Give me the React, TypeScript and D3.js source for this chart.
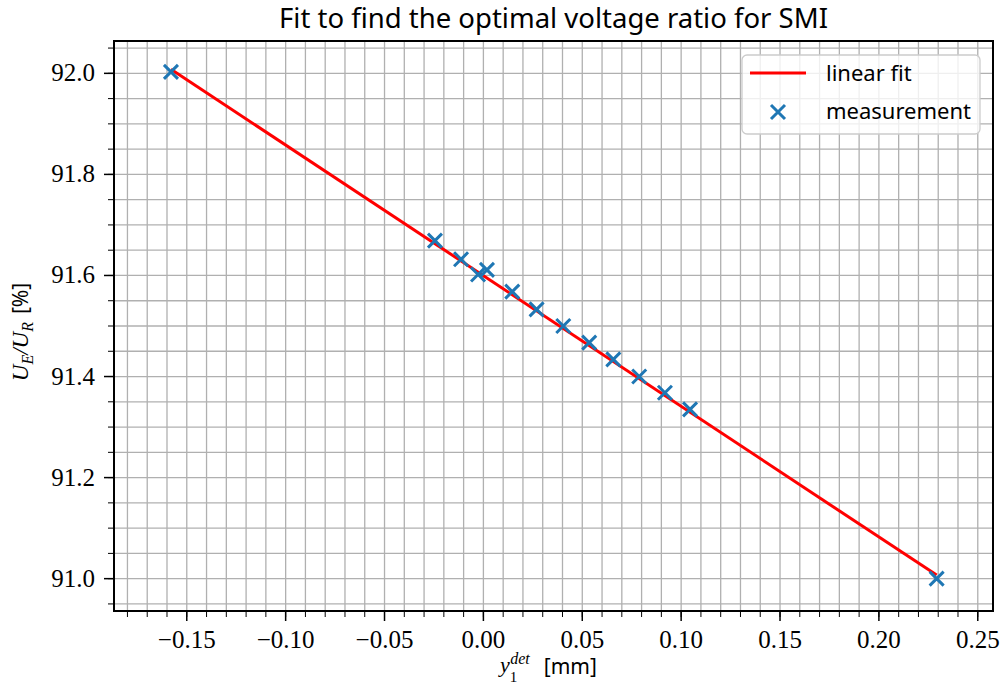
import React from "react";
import * as d3 from "d3";

// measured points (y_1^det in mm, U_E/U_R in %)
const measX = [-0.158, -0.0245, -0.0113, -0.0027, 0.0018, 0.0146, 0.0269, 0.0404, 0.0535, 0.0657, 0.0788, 0.0918, 0.1045, 0.2292];
const measY = [92.003, 91.669, 91.632, 91.602, 91.611, 91.568, 91.533, 91.5, 91.467, 91.434, 91.4, 91.368, 91.335, 91.0];

// linear fit end points
const fitX = [-0.158, 0.2292];
const fitY = [92.008, 91.007];

const xTicks = [-0.15, -0.1, -0.05, 0, 0.05, 0.1, 0.15, 0.2, 0.25];
const yTicks = [91.0, 91.2, 91.4, 91.6, 91.8, 92.0];

const W = 1004, H = 695;
const M = { left: 114, right: 993, top: 41, bottom: 611 };

const serif = "'Liberation Serif', 'DejaVu Serif', serif";
const sans = "'Noto Sans', 'DejaVu Sans', sans-serif";

const fmt = (v: number) => {
  const s = Math.abs(v).toFixed(2);
  return (v < -1e-9 ? "\u2212" : "") + s;
};

export default function App() {
  const x = d3.scaleLinear().domain([-0.1868, 0.2577]).range([M.left, M.right]);
  const y = d3.scaleLinear().domain([90.936, 92.064]).range([M.bottom, M.top]);

  const xMinor = d3.range(-18, 26).map((i) => i / 100);
  const yMinor = d3.range(0, 23).map((i) => 90.95 + i * 0.05).filter((v) => v >= 90.936 && v <= 92.064);

  const line = d3.line<number>().x((d, i) => x(fitX[i])).y((d, i) => y(fitY[i]));
  const cross = (cx: number, cy: number, r: number) =>
    `M${cx - r},${cy - r}L${cx + r},${cy + r}M${cx - r},${cy + r}L${cx + r},${cy - r}`;

  const gridColor = "#b0b0b0";
  const tickStyle = { fontFamily: serif, fontSize: 25 };
  const mathStyle = { fontFamily: serif, fontStyle: "italic" as const };

  return (
    <svg width={W} height={H} style={{ position: "absolute", left: 0, top: 0, background: "#fff" }}>
      <defs>
        <clipPath id="plot">
          <rect x={M.left} y={M.top} width={M.right - M.left} height={M.bottom - M.top} />
        </clipPath>
      </defs>
      {/* grid */}
      <g stroke={gridColor} strokeWidth={1.3}>
        {xMinor.map((v) => (
          <line key={"gx" + v} x1={x(v)} x2={x(v)} y1={M.top} y2={M.bottom} />
        ))}
        {yMinor.map((v) => (
          <line key={"gy" + v} x1={M.left} x2={M.right} y1={y(v)} y2={y(v)} />
        ))}
      </g>

      {/* fit line + measurements */}
      <g clipPath="url(#plot)">
        <path d={line(fitX) || ""} fill="none" stroke="#ff0000" strokeWidth={3} />
        {measX.map((v, i) => (
          <path key={"m" + i} d={cross(x(v), y(measY[i]), 7)} stroke="#1f77b4" strokeWidth={3} fill="none" />
        ))}
      </g>

      {/* ticks */}
      <g stroke="#000">
        {xMinor.map((v) => (
          <line key={"tx" + v} x1={x(v)} x2={x(v)} y1={M.bottom} y2={M.bottom + 6} strokeWidth={1} />
        ))}
        {xTicks.map((v) => (
          <line key={"TX" + v} x1={x(v)} x2={x(v)} y1={M.bottom} y2={M.bottom + 10} strokeWidth={1.5} />
        ))}
        {yMinor.map((v) => (
          <line key={"ty" + v} x1={M.left - 6} x2={M.left} y1={y(v)} y2={y(v)} strokeWidth={1} />
        ))}
        {yTicks.map((v) => (
          <line key={"TY" + v} x1={M.left - 10} x2={M.left} y1={y(v)} y2={y(v)} strokeWidth={1.5} />
        ))}
      </g>
      {xTicks.map((v) => (
        <text key={"lx" + v} x={x(v)} y={M.bottom + 37} textAnchor="middle" style={tickStyle}>{fmt(v)}</text>
      ))}
      {yTicks.map((v) => (
        <text key={"ly" + v} x={M.left - 19} y={y(v) + 8} textAnchor="end" style={tickStyle}>{v.toFixed(1)}</text>
      ))}

      {/* frame */}
      <rect x={M.left} y={M.top} width={M.right - M.left} height={M.bottom - M.top} fill="none" stroke="#000" strokeWidth={2} />

      {/* legend */}
      <g>
        <rect x={742} y={55} width={238} height={79} rx={5} fill="#fff" fillOpacity={0.8} stroke="#cccccc" strokeWidth={1.3} />
        <line x1={750} x2={806} y1={73} y2={73} stroke="#ff0000" strokeWidth={3} />
        <text x={826} y={81} style={{ fontFamily: sans, fontSize: 22 }}>linear fit</text>
        <path d={cross(778, 112, 7)} stroke="#1f77b4" strokeWidth={3} fill="none" />
        <text x={826} y={119} style={{ fontFamily: sans, fontSize: 22 }}>measurement</text>
      </g>

      {/* title */}
      <text x={(M.left + M.right) / 2} y={28} textAnchor="middle" style={{ fontFamily: sans, fontSize: 27.5 }}>
        Fit to find the optimal voltage ratio for SMI
      </text>

      {/* x label */}
      <text x={500} y={672} style={{ fontSize: 22 }}>
        <tspan style={mathStyle}>y</tspan>
        <tspan style={{ fontFamily: serif, fontSize: 15 }} dy={10}>1</tspan>
        <tspan style={{ ...mathStyle, fontSize: 16 }} dx={-7} dy={-18}>det</tspan>
        <tspan style={{ fontFamily: sans, fontSize: 21 }} dx={14} dy={10}>[mm]</tspan>
      </text>

      {/* y label */}
      <text transform={`translate(28,${(M.top + M.bottom) / 2 + 6}) rotate(-90)`} textAnchor="middle" style={{ fontSize: 23 }}>
        <tspan style={mathStyle}>U</tspan>
        <tspan style={{ ...mathStyle, fontSize: 16 }} dy={5}>E</tspan>
        <tspan style={mathStyle} dy={-5}>/U</tspan>
        <tspan style={{ ...mathStyle, fontSize: 16 }} dy={5}>R</tspan>
        <tspan style={{ fontFamily: sans, fontSize: 21 }} dx={8} dy={-5}>[%]</tspan>
      </text>
    </svg>
  );
}
